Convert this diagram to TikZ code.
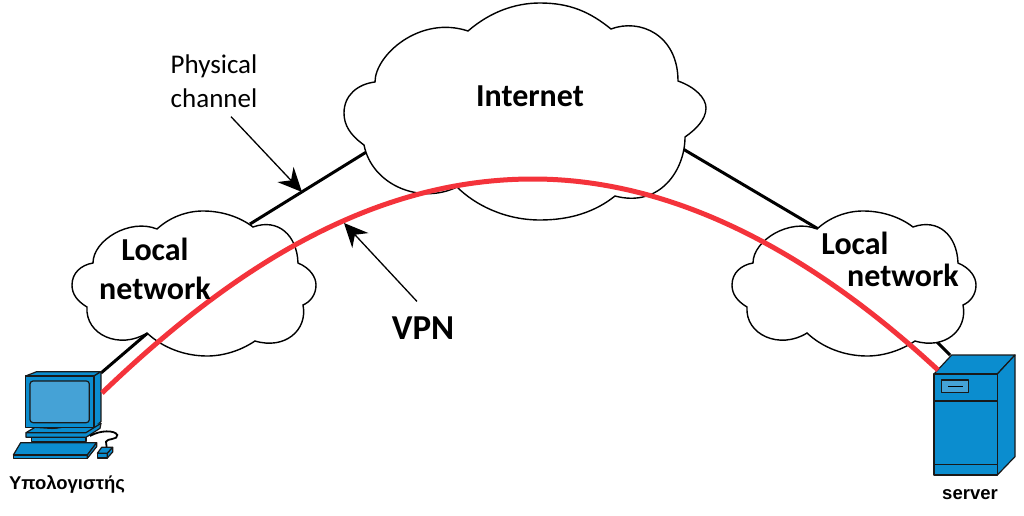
\documentclass[tikz,border=0pt]{standalone}
\usepackage{fontspec}
\setmainfont{Carlito}
\newfontfamily\labelfont{Liberation Sans}
\usetikzlibrary{arrows.meta}
\definecolor{devblue}{HTML}{0B8DCF}
\definecolor{screenblue}{HTML}{45A2D6}
\definecolor{vpnred}{HTML}{F4333B}
\tikzset{
  cloudline/.style={draw=black,fill=white,line width=1.4pt},
  wire/.style={black,line width=3pt},
  pointer/.style={black,line width=1.3pt,-{Stealth[length=24pt,width=22pt,inset=8pt]}},
  device/.style={draw=black!90,fill=devblue,line width=1.2pt,line join=round},
  bigtext/.style={font=\bfseries\fontsize{32}{39}\selectfont,inner sep=0pt,align=center},
  devtext/.style={font=\labelfont\bfseries\fontsize{18.5}{22}\selectfont,inner sep=0pt}
}
\begin{document}
\begin{tikzpicture}[x=1pt,y=-1pt]
  \useasboundingbox (0,0) rectangle (1024,516);
  \def\localcloud{(157,229) .. controls (170,217) and (187,211) .. (203,211)
    .. controls (222,211) and (240,217) .. (253,227)
    .. controls (278,218) and (297,235) .. (298,263)
    .. controls (310,268) and (316,277) .. (316,285)
    .. controls (316,295) and (310,302) .. (303,305)
    .. controls (308,330) and (285,350) .. (255,341)
    .. controls (240,351) and (223,356) .. (207,356)
    .. controls (185,356) and (163,348) .. (147,333)
    .. controls (120,350) and (85,335) .. (87,307)
    .. controls (77,301) and (72,294) .. (72,285)
    .. controls (72,273) and (81,265) .. (93,263)
    .. controls (93,240) and (130,218) .. (157,229) -- cycle}
  \def\netcloud{(468,31) .. controls (490,12) and (515,3) .. (540,3)
    .. controls (570,3) and (590,12) .. (611,29)
    .. controls (640,18) and (678,35) .. (678,81)
    .. controls (695,87) and (706,98) .. (706,108)
    .. controls (706,120) and (695,130) .. (685,137)
    .. controls (685,170) and (660,208) .. (615,196)
    .. controls (595,212) and (570,220) .. (540,220)
    .. controls (505,220) and (475,205) .. (457,187)
    .. controls (420,205) and (372,185) .. (364,145)
    .. controls (350,135) and (344,125) .. (344,113)
    .. controls (344,95) and (358,84) .. (375,82)
    .. controls (375,55) and (420,15) .. (468,31) -- cycle}

  % wires, they end behind the clouds
  \coordinate (pcport) at (101,373);
  \coordinate (leftin) at (150,331);
  \coordinate (leftout) at (250,224);
  \coordinate (netleft) at (368,151);
  \coordinate (netright) at (683,149);
  \coordinate (rightin) at (820,230);
  \coordinate (rightout) at (935,340);
  \coordinate (serverport) at (950,355);
  \draw [wire] (pcport) -- (leftin);
  \draw [wire] (leftout) -- (netleft);
  \draw [wire] (netright) -- (rightin);
  \draw [wire] (rightout) -- (serverport);

  \draw [cloudline] \netcloud;
  \draw [cloudline] \localcloud;
  \draw [cloudline,shift={(660,0)}] \localcloud;

  % computer
  \begin{scope}[shift={(0,340)},scale=0.3333]
    \draw [device] (77,108) -- (110,95) -- (303,95) -- (282,108) -- cycle;
    \draw [device] (282,108) -- (303,95) -- (303,245) -- (282,262) -- cycle;
    \draw [device] (105,262) rectangle (255,272);
    \draw [device] (78,278) -- (105,262) -- (255,272) -- (303,250) -- (300,265) -- (258,292) -- (78,292) -- cycle;
    \draw [device] (78,278) -- (258,278) -- (303,250);
    \draw [device] (95,292) rectangle (258,305);
    \draw [device] (77,108) rectangle (282,262);
    \draw [device,fill=screenblue,rounded corners=3pt] (90,123) rectangle (268,248);
    \draw [black,line width=1.8pt] (270,288) .. controls (300,270) and (345,270) .. (352,285)
      .. controls (355,300) and (320,295) .. (318,305) -- (320,322);
    \draw [device] (62,308) -- (290,308) -- (262,345) -- (40,345) -- cycle;
    \draw [device] (40,345) -- (262,345) -- (262,355) -- (40,355) -- cycle;
    \draw [device] (290,308) -- (290,320) -- (262,355) -- (262,345) -- cycle;
    \draw [device] (305,322) -- (338,322) -- (322,340) -- (292,340) -- cycle;
    \draw [device] (292,340) -- (322,340) -- (322,354) -- (292,354) -- cycle;
    \draw [device] (322,340) -- (338,322) -- (338,336) -- (322,354) -- cycle;
  \end{scope}

  % server
  \begin{scope}[shift={(880,330)},scale=0.3333]
    \draw [device] (162,132) -- (215,75) -- (405,75) -- (352,132) -- cycle;
    \draw [device] (352,132) -- (405,75) -- (405,380) -- (352,435) -- cycle;
    \draw [device] (162,132) rectangle (352,435);
    \draw [device] (162,213) -- (352,213);
    \draw [device] (162,403) -- (352,403);
    \draw [device,fill=screenblue] (185,150) rectangle (265,188);
    \draw [black,line width=1.4pt] (205,170) -- (248,170);
  \end{scope}

  % tunnel
  \coordinate (vpnstart) at (102,393);
  \coordinate (vpntop) at (533,179);
  \coordinate (vpnend) at (938,370);
  \draw [vpnred,line width=5pt] (vpnstart) .. controls (230,270) and (370,179) .. (vpntop)
    .. controls (690,179) and (830,270) .. (vpnend);

  \node (netlabel) [bigtext] at (530,96) {Internet};
  \node (leftlabel) [bigtext] at (155,269) {Local\\network};
  \node (rightlocal) [bigtext] at (855,243) {Local};
  \node (rightnet) [bigtext] at (903,275) {network};
  \node (vpnlabel) [bigtext,font=\bfseries\fontsize{35}{40}\selectfont] at (423,328) {VPN};
  \node (physlabel) [inner sep=0pt,align=center,font=\fontsize{27}{34}\selectfont] at (214,81) {Physical\\channel};
  \node (pclabel) [devtext] at (67,484) {Υπολογιστής};
  \node (serverlabel) [devtext] at (970,495) {server};

  % pointers
  \coordinate (phystip) at (302,192);
  \coordinate (vpntip) at (344,223);
  \draw [pointer] ([xshift=17pt,yshift=-9pt]physlabel.south) -- (phystip);
  \draw [pointer] ([xshift=-6pt,yshift=15pt]vpnlabel.north) -- (vpntip);
\end{tikzpicture}
\end{document}
